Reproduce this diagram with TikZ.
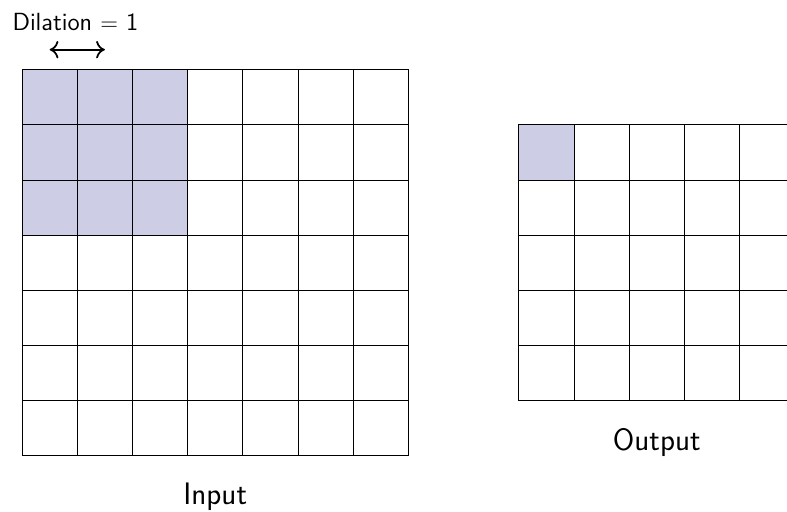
\documentclass[tikz,border=0pt]{standalone}
\usepackage{tikz}
\usetikzlibrary{positioning}
\usetikzlibrary{arrows.meta}
\definecolor{kernel}{RGB}{205,205,230}
\tikzset{
  cell/.style    = { rectangle, draw=black, minimum size=1cm, inner sep=0pt },
  shade/.style   = { fill=kernel },
  caption/.style = { font=\sffamily\fontsize{16}{19}\selectfont, inner sep=0pt },
  note/.style    = { font=\sffamily\fontsize{12.8}{15}\selectfont, inner sep=0pt },
  span/.style    = { <->, line width=0.9pt },
}

\begin{document}
\begin{tikzpicture}[
  >={To[length=4.5pt,width=9pt]},thin,black
]
  \useasboundingbox (-0.4,-1) rectangle (13.86,8.26);
  \clip (-0.4,-1) rectangle (13.86,8.26);

  % receptive field, then the input grid
  \fill [shade] (0,4) rectangle (3,7);
  \foreach \i in {0,...,6}
    \foreach \j in {0,...,6}
      \node (in-\i-\j) [cell] at (\i+0.5,6.5-\j) {};

  % first output, then the output grid
  \fill [shade] (9,5) rectangle (10,6);
  \foreach \i in {0,...,4}
    \foreach \j in {0,...,4}
      \node (out-\i-\j) [cell] at (\i+9.5,5.5-\j) {};

  \node (input)  [caption,anchor=base] at (3.5,-0.88) {Input};
  \node (output) [caption,anchor=base] at (11.5,0.09) {Output};

  \node (dil) [note,anchor=base west] at (-0.18,7.7) {Dilation $=$ 1};
  \coordinate (dl) at (0.5,7.36);
  \coordinate (dr) at (1.5,7.36);
  \draw [span] (dl) -- (dr);

\end{tikzpicture}
\end{document}
